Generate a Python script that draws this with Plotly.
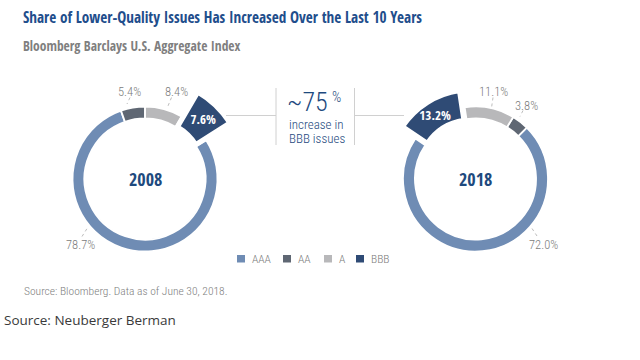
import plotly.graph_objects as go

# ---------------- data ----------------
categories = ["AAA", "AA", "A", "BBB"]
share_2008 = [78.7, 5.4, 8.4, 7.6]
share_2018 = [72.0, 3.8, 11.1, 13.2]
years = ["2008", "2018"]
colors = ["#6f8cb4", "#5f6773", "#b8b8ba", "#2f4b75"]

title_text = "Share of Lower-Quality Issues Has Increased Over the Last 10 Years"
subtitle_text = "Bloomberg Barclays U.S. Aggregate Index"
source_text = "Source: Bloomberg. Data as of June 30, 2018."
credit_text = "Source: Neuberger Berman"
increase_value = "~75"
increase_lines = ["increase in", "BBB issues"]

# ---------------- layout helpers ----------------
W, H = 640, 360
BOLDC = "Open Sans Condensed, Roboto Condensed, sans-serif"
REGC = "Roboto Condensed, sans-serif"
NAVY = "#1e4a7e"
GREY = "#7c7c7c"
CLEAR = "rgba(0,0,0,0)"


def px(x, y):
    return x / W, 1 - y / H


def dom(cx, cy, r):
    return dict(x=[(cx - r) / W, (cx + r) / W], y=[1 - (cy + r) / H, 1 - (cy - r) / H])


def note(x, y, text, font, xanchor="center", yanchor="middle"):
    a, b = px(x, y)
    return dict(x=a, y=b, xref="paper", yref="paper", text=text, showarrow=False,
                font=font, xanchor=xanchor, yanchor=yanchor)


def seg(x0, y0, x1, y1, line):
    a0, b0 = px(x0, y0)
    a1, b1 = px(x1, y1)
    return dict(type="line", xref="paper", yref="paper", x0=a0, y0=b0, x1=a1, y1=b1, line=line)


PULL = 0.08
donuts = [
    dict(values=share_2008, year=years[0], cx=145, cy=179, direction="clockwise",
         rotation=57.6, hi_outer=102, hi_hole=0.571,
         lab=[(80.5, 244), (129.5, 91), (176, 91)],
         lead=[((82, 236.5), (88, 227)), ((130, 97.5), (127, 104)), ((171.5, 97.5), (168, 106))]),
    dict(values=share_2018, year=years[1], cx=475.5, cy=179, direction="counterclockwise",
         rotation=45, hi_outer=90.5, hi_hole=0.642,
         lab=[(543.3, 244), (526.7, 105), (493.3, 91.7)],
         lead=[((537, 236), (531.7, 228)), ((523, 110.5), (520, 116.5)), ((493, 97.5), (491.7, 106.5))]),
]
RING_R = 72.5
RING_HOLE = 0.835

fig = go.Figure()
annotations = []
shapes = []

for d in donuts:
    # main ring (BBB left transparent; drawn by the highlight trace)
    fig.add_trace(go.Pie(
        labels=categories, values=d["values"], sort=False,
        direction=d["direction"], rotation=d["rotation"], hole=RING_HOLE,
        domain=dom(d["cx"], d["cy"], RING_R),
        marker=dict(colors=colors[:3] + [CLEAR],
                    line=dict(color="white", width=[1.8, 1.8, 1.8, 0])),
        textinfo="none", showlegend=False, name=d["year"],
    ))
    # highlighted BBB slice: thicker and pulled out
    fig.add_trace(go.Pie(
        labels=categories, values=d["values"], sort=False,
        direction=d["direction"], rotation=d["rotation"], hole=d["hi_hole"],
        pull=[0, 0, 0, PULL],
        domain=dom(d["cx"], d["cy"], d["hi_outer"]),
        marker=dict(colors=[CLEAR] * 3 + [colors[3]],
                    line=dict(color="white", width=[0, 0, 0, 5])),
        text=["", "", "", f"{d['values'][3]:.1f}%"],
        textinfo="text", textposition="inside", insidetextorientation="horizontal",
        insidetextfont=dict(color="white", size=13, family=BOLDC, weight="bold"),
        showlegend=False, name=d["year"],
    ))
    # centre year label
    annotations.append(note(d["cx"], d["cy"], d["year"],
                            dict(size=18, color=NAVY, family=BOLDC, weight="bold")))
    # outside value labels + dotted leader lines
    for i in range(3):
        annotations.append(note(*d["lab"][i], f"{d['values'][i]:.1f}%",
                                dict(size=12.5, color=GREY, family=REGC, weight=300)))
        (x0, y0), (x1, y1) = d["lead"][i]
        shapes.append(seg(x0, y0, x1, y1, dict(color="#bdbdbd", width=1, dash="dot")))

# centre call-out
for (x0, y0, x1, y1) in [(276, 88, 276, 145), (354.5, 88, 354.5, 145),
                         (226, 115.5, 276, 115.5), (354.5, 115.5, 404, 115.5)]:
    shapes.append(seg(x0, y0, x1, y1, dict(color="#d0d0d0", width=1)))

annotations.append(note(329.5, 102, increase_value,
                        dict(size=26, color=NAVY, family=REGC, weight=300), xanchor="right"))
annotations.append(note(329.5, 98, "%",
                        dict(size=14.5, color=NAVY, family=REGC, weight=300), xanchor="left"))
for line, cy in zip(increase_lines, [124, 138.5]):
    annotations.append(note(316.5, cy, line, dict(size=13, color=NAVY, family=REGC, weight=300)))

# legend (key squares + text)
legend_x = [237, 283, 324, 356]
for cat, col, lx in zip(categories, colors, legend_x):
    a0, b0 = px(lx, 255)
    a1, b1 = px(lx + 8, 262.5)
    shapes.append(dict(type="rect", xref="paper", yref="paper", x0=a0, y0=b0, x1=a1, y1=b1,
                       fillcolor=col, line=dict(width=0)))
    annotations.append(note(lx + 12.5, 259, cat,
                            dict(size=11.5, color=GREY, family=REGC, weight=300), xanchor="left"))

# titles and sources
annotations += [
    note(21, 17.3, title_text, dict(size=15.2, color="#1f4e8c", family=BOLDC, weight="bold"), xanchor="left"),
    note(21, 46.5, subtitle_text, dict(size=13.5, color="#7f7f7f", family=BOLDC, weight="bold"), xanchor="left"),
    note(22, 290.5, source_text, dict(size=11.5, color="#808080", family=REGC, weight=300), xanchor="left"),
    note(2, 319.5, credit_text, dict(size=13.5, color="#3a3a3a", family="Open Sans, sans-serif"), xanchor="left"),
]

fig.update_layout(
    width=W, height=H, margin=dict(l=0, r=0, t=0, b=0),
    paper_bgcolor="white", plot_bgcolor="white",
    annotations=annotations, shapes=shapes,
    uniformtext=dict(minsize=12, mode="show"),
    showlegend=False,
)

fig.write_html("out.html", config={"displayModeBar": False},
               post_script="document.body.style.margin='0';")
